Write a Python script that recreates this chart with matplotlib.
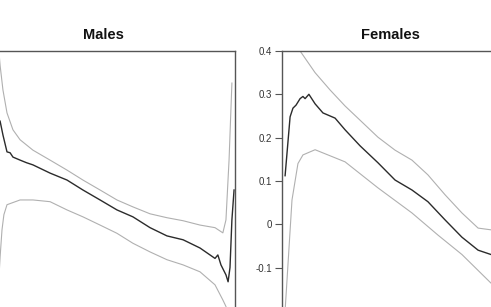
import matplotlib
matplotlib.use("Agg")
import matplotlib.pyplot as plt

plt.rcParams['font.family'] = ['Liberation Sans', 'DejaVu Sans']

# ---- Data (x on a 0-100 scale per panel) ----
males_x_mean = [1.3, 2.5, 4.2, 5.5, 6.7, 9.7, 12.4, 15.1, 22.3, 29.4, 36.1, 43.3, 50.4,
                57.1, 64.3, 71.4, 78.2, 85.3, 89.5, 91.6, 92.8, 94.1, 96.2, 97.1, 97.9,
                98.7, 99.6]
males_mean = [0.238, 0.206, 0.167, 0.165, 0.155, 0.148, 0.142, 0.137, 0.118, 0.102, 0.079,
              0.056, 0.033, 0.017, -0.008, -0.027, -0.036, -0.055, -0.071, -0.079, -0.071,
              -0.094, -0.117, -0.133, -0.100, 0.010, 0.079]

males_x_upper = [0.0, 1.3, 2.5, 4.2, 6.7, 9.7, 15.1, 22.3, 29.4, 36.1, 43.3, 50.4, 57.1,
                 64.3, 71.4, 78.2, 85.3, 91.6, 94.9, 96.2, 97.5, 98.7]
males_upper = [0.45, 0.367, 0.31, 0.257, 0.218, 0.195, 0.171, 0.148, 0.125, 0.102, 0.079,
               0.056, 0.040, 0.024, 0.015, 0.008, -0.002, -0.008, -0.020, 0.010, 0.148,
               0.326]

males_x_lower = [0.0, 1.3, 2.1, 2.9, 4.2, 6.7, 9.7, 12.4, 15.1, 22.3, 29.4, 36.1, 43.3,
                 50.4, 57.1, 64.3, 71.4, 78.2, 85.3, 91.6, 94.9, 96.2, 98.0]
males_lower = [-0.20, -0.076, -0.013, 0.022, 0.045, 0.050, 0.056, 0.056, 0.056, 0.052,
               0.033, 0.017, -0.002, -0.021, -0.044, -0.064, -0.082, -0.094, -0.110,
               -0.140, -0.175, -0.190, -0.23]

fem_x_mean = [1.3, 3.4, 4.6, 5.9, 7.6, 8.8, 9.7, 11.3, 13.9, 17.2, 22.3, 26.5, 32.8,
              40.3, 47.5, 54.6, 61.3, 68.5, 75.6, 82.4, 87.8, 95.0]
fem_mean = [0.112, 0.248, 0.268, 0.275, 0.290, 0.295, 0.290, 0.300, 0.278, 0.257, 0.245,
            0.218, 0.181, 0.142, 0.102, 0.079, 0.052, 0.010, -0.030, -0.060, -0.070, -0.075]

fem_x_upper = [1.3, 4.2, 7.6, 13.9, 20.2, 26.5, 33.6, 40.3, 47.5, 54.6, 61.3, 68.5, 75.6,
               82.4, 87.8, 95.0]
fem_upper = [0.70, 0.52, 0.40, 0.350, 0.310, 0.273, 0.236, 0.201, 0.171, 0.148, 0.114,
             0.068, 0.026, -0.009, -0.013, -0.010]

fem_x_lower = [1.3, 4.2, 6.7, 8.8, 13.9, 26.5, 40.3, 54.6, 65.5, 75.6, 87.8, 95.0]
fem_lower = [-0.20, 0.056, 0.140, 0.160, 0.172, 0.144, 0.084, 0.026, -0.025, -0.070,
             -0.136, -0.16]

titles = ["Males", "Females"]
yticks = [-0.1, 0, 0.1, 0.2, 0.3, 0.4]
ytick_labels = ["-0.1", "0", "0.1", "0.2", "0.3", "0.4"]

# ---- Figure ----
W, H = 491, 307
fig = plt.figure(figsize=(W / 100, H / 100), dpi=100)

ymin, ymax = -0.3, 0.4
px_per_unit = 433.0
top_px = 51
bottom_px = top_px + (ymax - ymin) * px_per_unit
ax_h = (bottom_px - top_px) / H
ax_bottom = 1 - bottom_px / H

ax_w_px = 238
axL = fig.add_axes([-3 / W, ax_bottom, ax_w_px / W, ax_h])
axR = fig.add_axes([282 / W, ax_bottom, ax_w_px / W, ax_h])

dark = "#2b2b2b"
grey = "#b0b0b0"
spine_c = "#555555"

for ax, (xm, m), (xu, u), (xl, l) in [
    (axL, (males_x_mean, males_mean), (males_x_upper, males_upper), (males_x_lower, males_lower)),
    (axR, (fem_x_mean, fem_mean), (fem_x_upper, fem_upper), (fem_x_lower, fem_lower)),
]:
    ax.plot(xu, u, color=grey, lw=0.8)
    ax.plot(xl, l, color=grey, lw=0.8)
    ax.plot(xm, m, color=dark, lw=1.0)
    ax.set_xlim(0, 100)
    ax.set_ylim(ymin, ymax)
    ax.set_xticks([])
    for s in ax.spines.values():
        s.set_color(spine_c)
        s.set_linewidth(1.0)

axL.set_yticks([])
axR.set_yticks(yticks)
axR.set_yticklabels(ytick_labels)
axR.tick_params(axis='y', length=5, width=0.8, color=spine_c, pad=2,
                labelsize=7, labelcolor="#333333")

fig.text(103.5 / W, 1 - 39 / H, titles[0], ha='center', va='baseline',
         fontsize=10.5, fontweight='bold', color='#111111')
fig.text(390 / W, 1 - 39 / H, titles[1], ha='center', va='baseline',
         fontsize=10.5, fontweight='bold', color='#111111')

fig.savefig("out.png", dpi=100)
